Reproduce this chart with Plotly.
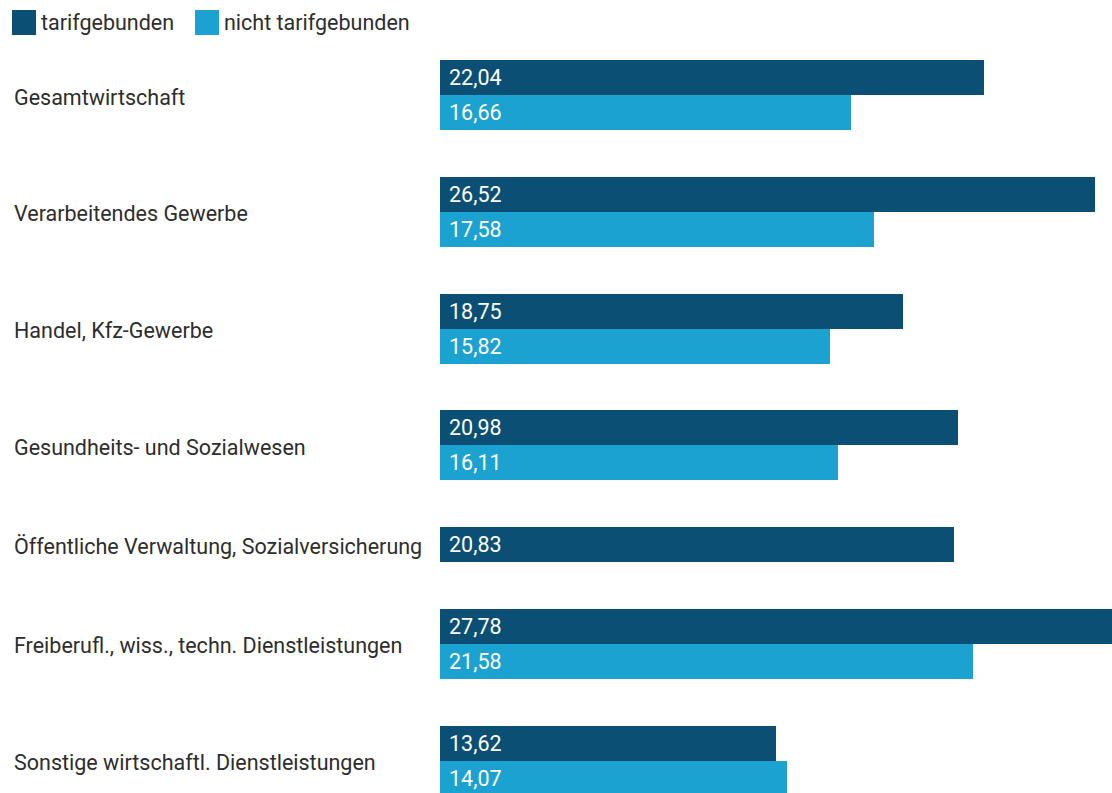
import plotly.graph_objects as go

categories = [
    "Gesamtwirtschaft",
    "Verarbeitendes Gewerbe",
    "Handel, Kfz-Gewerbe",
    "Gesundheits- und Sozialwesen",
    "Öffentliche Verwaltung, Sozialversicherung",
    "Freiberufl., wiss., techn. Dienstleistungen",
    "Sonstige wirtschaftl. Dienstleistungen",
]
series_names = ["tarifgebunden", "nicht tarifgebunden"]
tarifgebunden = [22.04, 26.52, 18.75, 20.98, 20.83, 27.78, 13.62]
nicht_tarifgebunden = [16.66, 17.58, 15.82, 16.11, None, 21.58, 14.07]
colors = ["#0b4f75", "#1ca2d1"]

W, H = 1112, 793
ML = 440
PW = W - ML
PX_PER_UNIT = 24.68
BAR_PX = 35.0
GAP = 1.336  # gap between groups in bar units
FIRST_CENTER_PX = 77.5
FONT = "Roboto"
FS = 21.5

# compute stacked positions (bar units) from data
pos = {0: [], 1: []}
centers = []
cur = 0.0
for i in range(len(categories)):
    vals = [tarifgebunden[i], nicht_tarifgebunden[i]]
    placed = []
    for s, v in enumerate(vals):
        if v is not None:
            pos[s].append(cur)
            placed.append(cur)
            cur += 1
        else:
            pos[s].append(None)
    centers.append(sum(placed) / len(placed))
    cur += GAP


def fmt(v):
    return f"{v:.2f}".replace(".", ",")


fig = go.Figure()
annotations = []
for s, vals in enumerate([tarifgebunden, nicht_tarifgebunden]):
    ys = [p for p, v in zip(pos[s], vals) if v is not None]
    xs = [v for v in vals if v is not None]
    fig.add_trace(go.Bar(
        x=xs, y=ys, orientation="h", width=1.0,
        marker=dict(color=colors[s], line=dict(width=0)),
        name=series_names[s], showlegend=False,
        hovertemplate="%{x}<extra></extra>",
    ))
    for xv, yv in zip(xs, ys):
        annotations.append(dict(
            x=0, xref="x", y=yv, yref="y", text=fmt(xv), showarrow=False,
            xanchor="left", yanchor="middle", xshift=7,
            font=dict(family=FONT, size=FS, color="white"),
        ))

y_top = -FIRST_CENTER_PX / BAR_PX
y_bot = (H - FIRST_CENTER_PX) / BAR_PX

for c, name in zip(centers, categories):
    annotations.append(dict(
        x=(12 - ML) / PW, xref="paper", y=c, yref="y", yshift=-2,
        text=name, showarrow=False, xanchor="left", yanchor="middle",
        font=dict(family=FONT, size=FS, color="#2d2d2d"),
    ))

# legend
shapes = []
leg_x = [12, 195]
for s, name in enumerate(series_names):
    x0 = (leg_x[s] - ML) / PW
    x1 = (leg_x[s] + 24 - ML) / PW
    shapes.append(dict(type="rect", xref="paper", yref="paper",
                       x0=x0, x1=x1, y0=1 - 35 / H, y1=1 - 10 / H,
                       fillcolor=colors[s], line=dict(width=0)))
    annotations.append(dict(
        x=(leg_x[s] + 27 - ML) / PW, xref="paper", y=1 - 22.5 / H, yref="paper",
        text=name, showarrow=False, xanchor="left", yanchor="middle",
        font=dict(family=FONT, size=FS, color="#2d2d2d"),
    ))

fig.update_layout(
    width=W, height=H,
    margin=dict(l=ML, r=0, t=0, b=0),
    paper_bgcolor="white", plot_bgcolor="white",
    bargap=0,
    xaxis=dict(range=[0, PW / PX_PER_UNIT], visible=False, fixedrange=True),
    yaxis=dict(range=[y_bot, y_top], visible=False, fixedrange=True),
    annotations=annotations, shapes=shapes,
    showlegend=False,
)

fig.write_html("out.html")
